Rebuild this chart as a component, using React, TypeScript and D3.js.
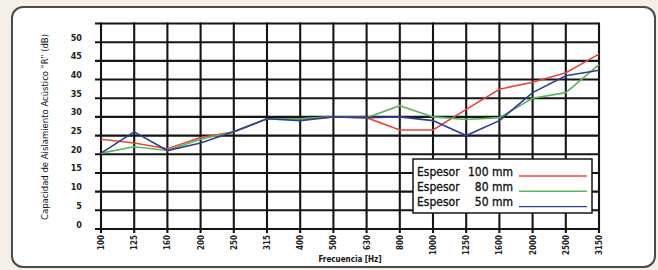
import React from "react";
import * as d3 from "d3";

const categories = ["100","125","160","200","250","315","400","500","630","800","1000","1250","1600","2000","2500","3150"];
const s100 = [24, 23, 21.5, 24.5, 26, 29.5, 29.5, 30, 29.8, 26.5, 26.5, 32, 37.4, 39.3, 41.8, 46.8];
const s80  = [20.3, 22, 21, 24, 26, 29.5, 29.5, 30, 29.8, 33, 30, 29.3, 29.8, 35, 36.5, 44];
const s50  = [20.3, 26, 21, 23, 26, 29.5, 29, 30, 29.8, 30, 29, 25, 29, 36.5, 41, 42.5];
const yTicks = [0, 5, 10, 15, 20, 25, 30, 35, 40, 45, 50];
const yGrid = [0, 5, 10, 15, 20, 25, 30, 35, 40, 45, 50, 55];
const seriesNames = ["Espesor", "Espesor", "Espesor"];
const seriesThick = ["100 mm", "80 mm", "50 mm"];
const seriesColors = ["#e8463c", "#5bb55b", "#2e3e92"];

export default function App() {
  const W = 658, H = 270;
  const x = d3.scalePoint<string>().domain(categories).range([101, 599]);
  const y = d3.scaleLinear().domain([0, 55]).range([229, 23.5]);
  const line = d3.line<number>().x((_, i) => x(categories[i]) as number).y(d => y(d));
  const series = [s100, s80, s50];
  const font = "'Liberation Sans Narrow', 'DejaVu Sans Condensed', 'Liberation Sans', sans-serif";
  const grid = "#151515";
  return (
    <div style={{ position: "fixed", left: 0, top: 0 }}>
      <svg width={W} height={H} style={{ display: "block" }}>
        <rect x={0} y={0} width={W} height={H} fill="#f3eee8" />
        <rect x={12} y={7} width={643} height={260} rx={11} ry={11} fill="#ffffff" stroke="#4a4a4a" strokeWidth={2} />
        {yGrid.map(v => (
          <line key={"h" + v} x1={95} x2={599} y1={y(v)} y2={y(v)} stroke={grid} strokeWidth={2.1} />
        ))}
        {categories.map(c => (
          <line key={"v" + c} x1={x(c)} x2={x(c)} y1={y(55) - 1} y2={233} stroke={grid} strokeWidth={2.1} />
        ))}
        {yTicks.map(v => (
          <text key={"yt" + v} x={82} y={y(v) - 4} textAnchor="end" dominantBaseline="middle"
            fontFamily={font} fontSize={9} fontWeight="bold" fill="#222">{v}</text>
        ))}
        {categories.map(c => (
          <text key={"xt" + c} transform={`translate(${(x(c) as number) + 3},235) rotate(-90)`}
            textAnchor="end" fontFamily={font} fontSize={8} fontWeight="bold" fill="#222">{c}</text>
        ))}
        <text x={350} y={262} textAnchor="middle" fontFamily={font} fontSize={8} fontWeight="bold" fill="#111">Frecuencia [Hz]</text>
        <text transform="translate(48,127) rotate(-90)" textAnchor="middle" fontFamily={font} fontSize={8} fill="#111"
          textLength={186} lengthAdjust="spacingAndGlyphs">Capacidad de Aislamiento Acústico "R" (dB)</text>
        {series.map((s, i) => (
          <path key={"s" + i} d={line(s) || ""} fill="none" stroke={seriesColors[i]} strokeWidth={1.6} />
        ))}
        <rect x={413} y={159} width={179} height={54} fill="#ffffff" stroke={grid} strokeWidth={1.5} />
        {seriesNames.map((n, i) => (
          <g key={"lg" + i}>
            <text x={417} y={175.5 + i * 15.3} fontFamily={font} fontSize={12} fill="#111" stroke="#111" strokeWidth={0.3}>{n}</text>
            <text x={513} y={175.5 + i * 15.3} textAnchor="end" fontFamily={font} fontSize={12} fill="#111" stroke="#111" strokeWidth={0.3}>{seriesThick[i]}</text>
            <line x1={519} x2={587} y1={176 + i * 15.3} y2={176 + i * 15.3} stroke={seriesColors[i]} strokeWidth={1.4} />
          </g>
        ))}
      </svg>
    </div>
  );
}
